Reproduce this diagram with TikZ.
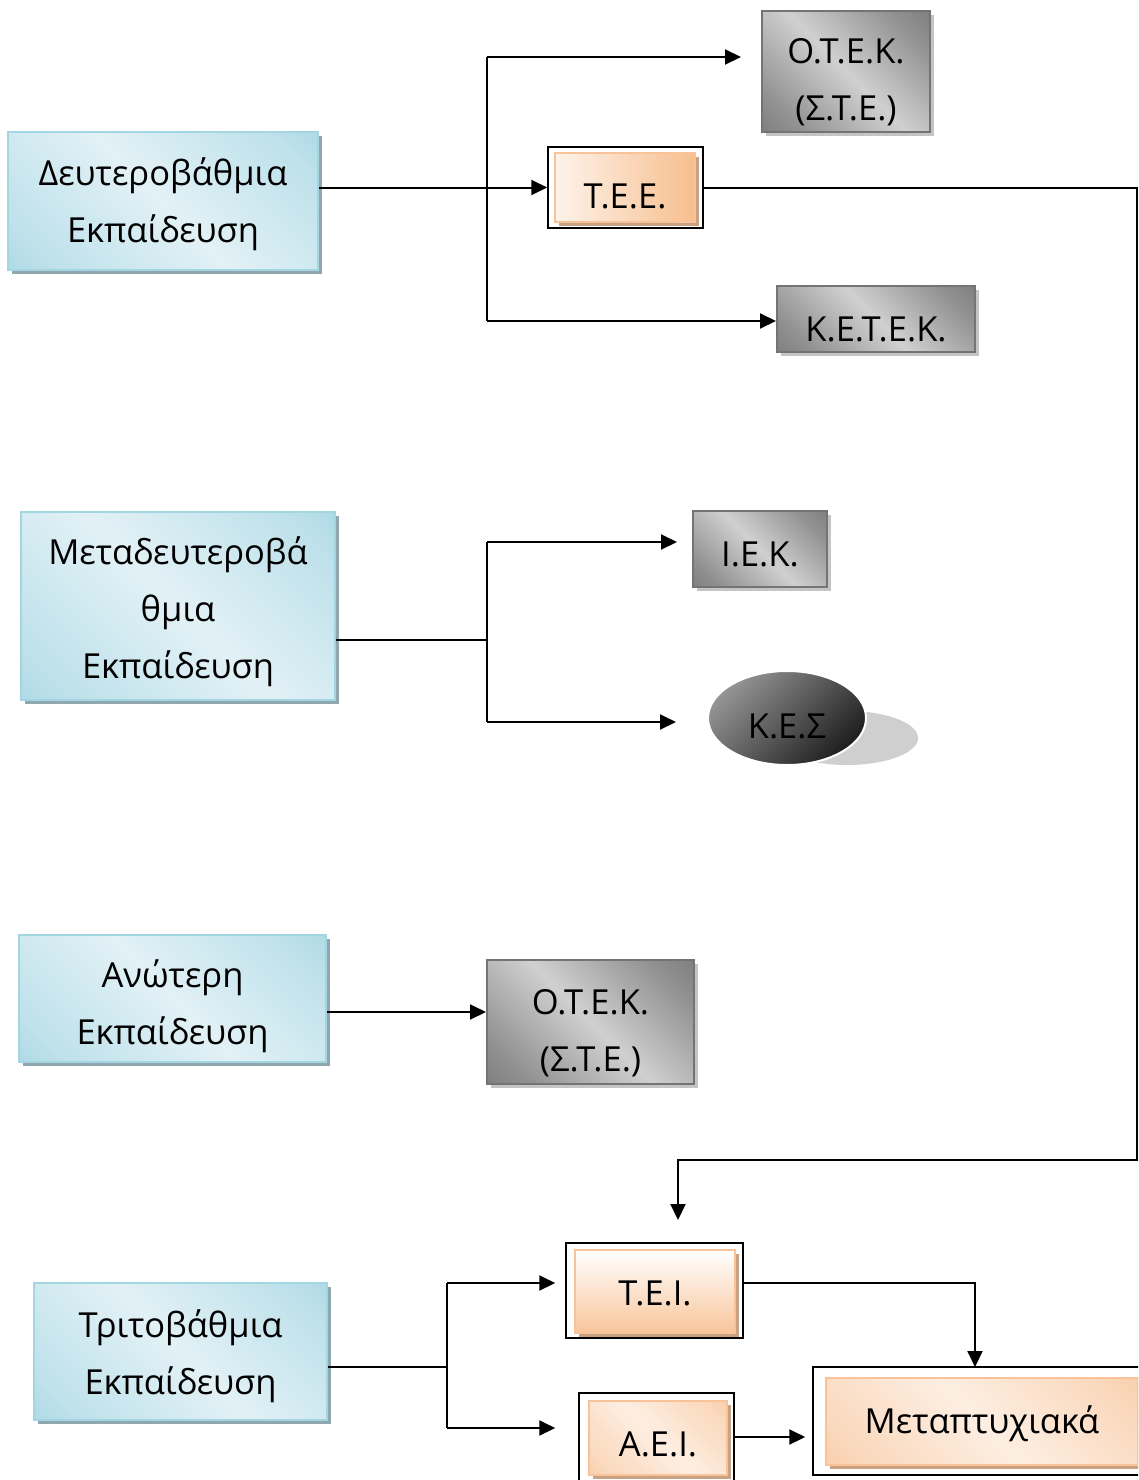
\documentclass[tikz,border=0pt]{standalone}
\usepackage{fontspec}
\setmainfont{Open Sans}
\usetikzlibrary{arrows.meta,shapes.geometric,shadows}
\definecolor{blueD}{HTML}{92CDDC}
\definecolor{blueL}{HTML}{E2F1F6}
\definecolor{blueB}{HTML}{A3D5E2}
\definecolor{blueS}{HTML}{8FA7AF}
\definecolor{grayD}{HTML}{666666}
\definecolor{grayL}{HTML}{D0D0D0}
\definecolor{grayB}{HTML}{747474}
\definecolor{grayS}{HTML}{C4C4C4}
\definecolor{oraD}{HTML}{F7BE8E}
\definecolor{oraL}{HTML}{FDEEE2}
\definecolor{oraB}{HTML}{F9C399}
\definecolor{oraS}{HTML}{C9A183}
\pgfdeclarehorizontalshading{bluesh}{100bp}{color(0bp)=(blueD); color(22bp)=(blueL!55!blueD); color(50bp)=(blueL); color(78bp)=(blueL!55!blueD); color(100bp)=(blueD)}
\pgfdeclarehorizontalshading{graysh}{100bp}{color(0bp)=(grayD); color(24bp)=(grayL!40!grayD); color(50bp)=(grayL); color(76bp)=(grayL!40!grayD); color(100bp)=(grayD)}
\pgfdeclarehorizontalshading{orash}{100bp}{color(0bp)=(oraD); color(22bp)=(oraL!55!oraD); color(50bp)=(oraL); color(78bp)=(oraL!55!oraD); color(100bp)=(oraD)}
\newcommand\dn[2][8pt]{\raisebox{-#1}[\height][\depth]{#2}}
\tikzset{
  txt/.style={font=\fontsize{34.5}{57}\selectfont, align=center, text=black, inner sep=0pt},
  bluebox/.style={txt, rectangle, draw=blueB, line width=1.5pt, shading=bluesh, shading angle=45,
    general shadow={fill=blueS, shadow xshift=4pt, shadow yshift=-4pt}},
  graybox/.style={txt, rectangle, draw=grayB, line width=2pt, shading=graysh, shading angle=45,
    general shadow={fill=grayS, shadow xshift=4pt, shadow yshift=-4pt}},
  orabox/.style={txt, rectangle, draw=oraB, line width=2pt, shading=orash, shading angle=45,
    general shadow={fill=oraS, shadow xshift=4pt, shadow yshift=-4pt}},
  framebox/.style={rectangle, draw=black, line width=1.5pt, inner sep=0pt},
  conn/.style={draw=black, line width=2pt},
  arr/.style={conn, -{Triangle[length=16pt,width=15pt]}},
}
\begin{document}
\begin{tikzpicture}[x=1pt,y=-1pt]
\useasboundingbox (0,0) rectangle (1138,1480);
\clip (0,0) rectangle (1138,1480);
\fill[white] (0,0) rectangle (1138,1480);

% left boxes
\node[bluebox, minimum width=310pt, minimum height=138pt] (b1) at (163,201) {\dn[3pt]{Δευτεροβάθμια}\\\dn[3pt]{Εκπαίδευση}};
\node[bluebox, minimum width=314pt, minimum height=188pt] (b2) at (178,606) {\dn[6pt]{Μεταδευτεροβά}\\\dn[6pt]{θμια}\\\dn[6pt]{Εκπαίδευση}};
\node[bluebox, minimum width=307pt, minimum height=127pt] (b3) at (172.5,998.5) {\dn[8pt]{Ανώτερη}\\\dn[8pt]{Εκπαίδευση}};
\node[bluebox, minimum width=293pt, minimum height=137pt] (b4) at (180.5,1351.5) {\dn[5pt]{Τριτοβάθμια}\\\dn[5pt]{Εκπαίδευση}};

% gray boxes
\node[graybox, minimum width=168pt, minimum height=121pt] (g1) at (846,71.5) {\dn[11pt]{Ο.Τ.Ε.Κ.}\\\dn[11pt]{(Σ.Τ.Ε.)}};
\node[graybox, minimum width=198pt, minimum height=66pt] (g2) at (876,319) {\dn[10pt]{Κ.Ε.Τ.Ε.Κ.}};
\node[graybox, minimum width=134pt, minimum height=76pt] (g3) at (760,549) {\dn[5pt]{Ι.Ε.Κ.}};
\node[graybox, minimum width=207pt, minimum height=124pt] (g4) at (590.5,1022) {\dn[11pt]{Ο.Τ.Ε.Κ.}\\\dn[11pt]{(Σ.Τ.Ε.)}};

% ellipse
\fill[black!19] (847,738) ellipse [x radius=71pt, y radius=27pt];
\node[txt, ellipse, draw=white, line width=2pt, minimum width=158pt, minimum height=94pt,
  shading=axis, top color=black!42, bottom color=black!88, shading angle=45] (kes) at (787,718) {\dn[8pt]{Κ.Ε.Σ}};

% orange boxes with frames
\node[framebox, minimum width=155pt, minimum height=81pt] (teeF) at (625.5,187.5) {};
\node[orabox, minimum width=140pt, minimum height=69pt, left color=oraL!70!white, right color=oraD] (tee) at (625,187.5) {\dn[9pt]{Τ.Ε.Ε.}};
\node[framebox, minimum width=177pt, minimum height=95pt] (teiF) at (654.5,1290.5) {};
\node[orabox, minimum width=160pt, minimum height=83pt, top color=white, bottom color=oraD!85!oraL] (tei) at (655,1291.5) {\dn[2pt]{Τ.Ε.Ι.}};
\node[framebox, minimum width=155pt, minimum height=94pt] (aeiF) at (656.5,1440) {};
\node[orabox, minimum width=138pt, minimum height=74pt] (aei) at (658,1438) {\dn[6pt]{Α.Ε.Ι.}};
\node[framebox, minimum width=344pt, minimum height=108pt] (metaF) at (985,1421) {};
\node[orabox, minimum width=312pt, minimum height=87pt] (meta) at (982,1421.5) {\dn[2pt]{Μεταπτυχιακά}};

% connectors: secondary
\coordinate (v1t) at (487,57);
\coordinate (v1b) at (487,321);
\draw[conn] (v1t) -- (v1b);
\draw[arr] (b1.east |- teeF.west) -- (teeF.west);
\draw[arr] (v1t) -- ([xshift=-20pt]g1.west |- v1t);
\draw[arr] (v1b) -- (g2.west |- v1b);

% TEE -> TEI
\coordinate (c1) at (1137,1160);
\coordinate (c2) at (678,1220);
\draw[arr] (teeF.east) -| (c1) -| (c2);

% post-secondary
\coordinate (j2) at (487,640);
\coordinate (v2t) at (487,542);
\coordinate (v2b) at (487,722);
\draw[conn] (b2.east |- j2) -- (j2);
\draw[conn] (v2t) -- (v2b);
\draw[arr] (v2t) -- ([xshift=-15pt]g3.west |- v2t);
\draw[arr] (v2b) -- ([xshift=-31pt]kes.west |- v2b);

% higher
\coordinate (j3) at (487,1012);
\draw[arr] (b3.east |- j3) -- (g4.west |- j3);

% tertiary
\coordinate (j4) at (447,1367);
\coordinate (v4t) at (447,1283);
\coordinate (v4b) at (447,1428);
\draw[conn] (b4.east |- j4) -- (j4);
\draw[conn] (v4t) -- (v4b);
\draw[arr] (v4t) -- ([xshift=-10pt]teiF.west |- v4t);
\draw[arr] (v4b) -- ([xshift=-23pt]aeiF.west |- v4b);
\coordinate (c3) at (975,1367);
\draw[arr] (teiF.east |- v4t) -| (c3);
\coordinate (j5) at (734,1437);
\draw[arr] (aeiF.east |- j5) -- ([xshift=-7pt]metaF.west |- j5);
\end{tikzpicture}
\end{document}
